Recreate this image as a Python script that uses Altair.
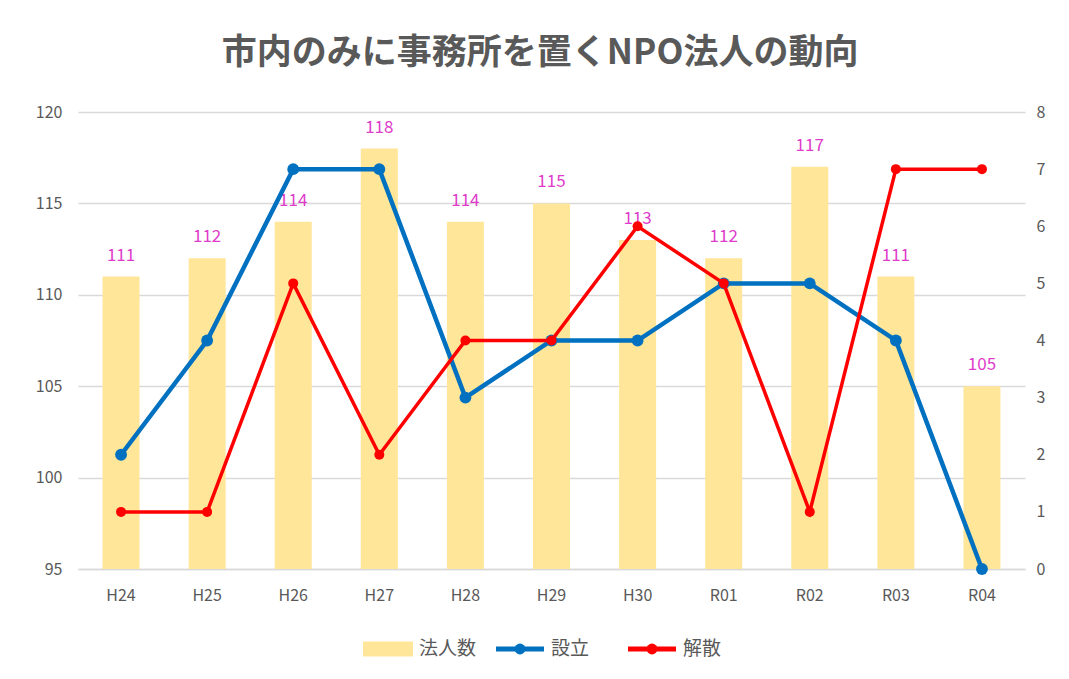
import altair as alt
import pandas as pd

years = ["H24", "H25", "H26", "H27", "H28", "H29", "H30", "R01", "R02", "R03", "R04"]
houjin = [111, 112, 114, 118, 114, 115, 113, 112, 117, 111, 105]
setsuritsu = [2, 4, 7, 7, 3, 4, 4, 5, 5, 4, 0]
kaisan = [1, 1, 5, 2, 4, 4, 6, 5, 1, 7, 7]
legend_items = ["法人数", "設立", "解散"]
legend_colors = ["#FFE699", "#0070C0", "#FF0000"]

FONT = "Noto Sans CJK JP"
GREY = "#595959"
GRID = "#D9D9D9"
W, H = 947, 457

bar_df = pd.DataFrame({"year": years, "houjin": houjin})
blue_df = pd.DataFrame({"year": years, "value": setsuritsu})
red_df = pd.DataFrame({"year": years, "value": kaisan})

x_enc = alt.X(
    "year:N", sort=years,
    scale=alt.Scale(paddingInner=0, paddingOuter=0),
    axis=alt.Axis(title=None, labelAngle=0, ticks=False, domain=True, domainColor=GRID,
                  domainWidth=1.5, labelFontSize=16, labelColor=GREY, labelPadding=18, labelFont=FONT),
)

y_left = alt.Y(
    "houjin:Q",
    scale=alt.Scale(domain=[95, 120], zero=False, nice=False),
    axis=alt.Axis(title=None, values=[95, 100, 105, 110, 115, 120], grid=True, gridColor=GRID,
                  gridWidth=1.5, ticks=False, domain=False, labelFontSize=16, labelColor=GREY,
                  labelPadding=16, labelFont=FONT),
)

bars = alt.Chart(bar_df).mark_bar(color="#FFE699", width={"band": 0.43}).encode(
    x=x_enc, y=y_left, y2=alt.datum(95)
)
labels = alt.Chart(bar_df).mark_text(
    color="#E03CCB", fontSize=17, dy=-16, baseline="alphabetic", font=FONT
).encode(x=x_enc, y=y_left, text="houjin:Q")

y_right = alt.Y(
    "value:Q",
    scale=alt.Scale(domain=[0, 8], nice=False),
    axis=alt.Axis(title=None, orient="right", values=list(range(9)), grid=False, ticks=False,
                  domain=False, labelFontSize=16, labelColor=GREY, labelPadding=11, labelFont=FONT),
)

blue = alt.Chart(blue_df).mark_line(
    color="#0070C0", strokeWidth=4.5,
    point=alt.OverlayMarkDef(color="#0070C0", size=140, filled=True, opacity=1),
).encode(x=x_enc, y=y_right)
red = alt.Chart(red_df).mark_line(
    color="#FF0000", strokeWidth=3.5,
    point=alt.OverlayMarkDef(color="#FF0000", size=100, filled=True, opacity=1),
).encode(x=x_enc, y=y_right)

main = alt.layer(
    alt.layer(bars, labels),
    alt.layer(blue, red),
).resolve_scale(y="independent").properties(width=W, height=H)

# legend row
leg_df = pd.DataFrame({"item": legend_items, "color": legend_colors})
leg_x = alt.X("item:N", sort=legend_items, axis=None,
              scale=alt.Scale(type="point", domain=legend_items, range=[310, 574], padding=0))
leg_color = alt.Color("item:N", scale=alt.Scale(domain=legend_items, range=legend_colors), legend=None)

leg_rect = alt.Chart(leg_df).transform_filter(alt.datum.item == "法人数").mark_point(
    shape="M-1,-0.3H1V0.3H-1Z", filled=True, size=2500, opacity=1
).encode(x=leg_x, color=leg_color, y=alt.value(10))
leg_line = alt.Chart(leg_df).transform_filter(alt.datum.item != "法人数").mark_point(
    shape="M-1,-0.1H1V0.1H-1Z", filled=True, size=2304, opacity=1
).encode(x=leg_x, color=leg_color, y=alt.value(10))
leg_dot = alt.Chart(leg_df).transform_filter(alt.datum.item != "法人数").mark_circle(
    size=120, opacity=1
).encode(x=leg_x, color=leg_color, y=alt.value(10))
leg_text = alt.Chart(leg_df).mark_text(
    align="left", baseline="middle", fontSize=19, color=GREY, font=FONT, dx=31
).encode(x=leg_x, text="item:N", y=alt.value(10))

legend = alt.layer(leg_rect, leg_line, leg_dot, leg_text).properties(width=W, height=20)

chart = alt.vconcat(main, legend, spacing=34).properties(
    title=alt.TitleParams(
        "市内のみに事務所を置くNPO法人の動向", fontSize=35, fontWeight="bold", color=GREY,
        font=FONT, anchor="middle", offset=33,
    ),
    padding={"left": 26, "top": 27, "right": 10, "bottom": 10},
    background="white",
).configure_view(stroke="transparent")

chart.save("out.html", embed_options={"renderer": "svg", "actions": False})
